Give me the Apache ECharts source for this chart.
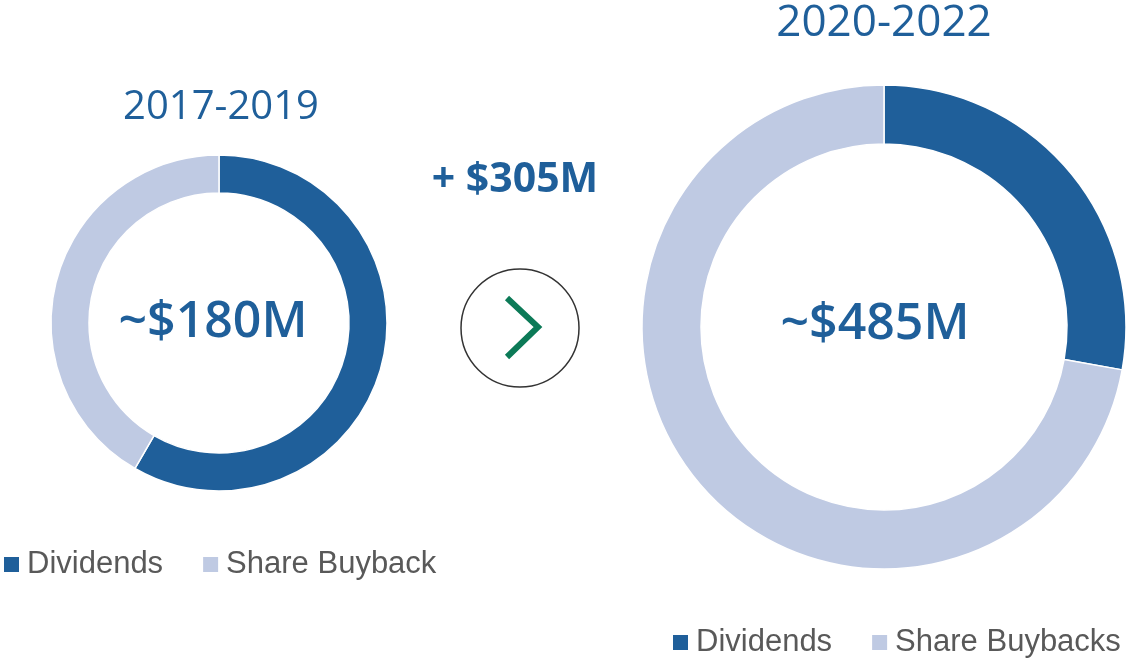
<!DOCTYPE html>
<html>
<head>
<meta charset="utf-8">
<script src="https://cdn.jsdelivr.net/npm/echarts@6/dist/echarts.min.js"></script>
<style>
  html, body { margin: 0; padding: 0; background: #fff; }
  #chart { width: 1129px; height: 658px; }
</style>
</head>
<body>
<div id="chart"></div>
<script>
// capital returned, $M
const periods = ['2017-2019', '2020-2022']
const namesLeft = ['Dividends', 'Share Buyback']
const namesRight = ['Dividends', 'Share Buybacks']
const valuesLeft = [105, 75]
const valuesRight = [135, 350]

const blue = '#1F5F9A'
const lightBlue = '#BFCAE3'
const palette = [blue, lightBlue]

const sum = (arr) => arr.reduce((a, b) => a + b, 0)
const totalLeft = sum(valuesLeft)
const totalRight = sum(valuesRight)

const toData = (names, values) =>
  names.map((name, i) => ({
    name: name,
    value: values[i],
    itemStyle: { color: palette[i] }
  }))

const txt = (text, x, y, font, fill) => ({
  type: 'text',
  style: {
    text: text,
    x: x,
    y: y,
    font: font,
    fill: fill,
    align: 'center',
    verticalAlign: 'middle',
    textAlign: 'center',
    textVerticalAlign: 'middle'
  }
})

const myChart = echarts.init(document.getElementById('chart'))

const pieBase = {
  type: 'pie',
  startAngle: 90,
  clockwise: true,
  avoidLabelOverlap: false,
  label: { show: false },
  labelLine: { show: false },
  emphasis: { disabled: true },
  itemStyle: { borderColor: '#fff', borderWidth: 1.5 }
}

const legendBase = {
  icon: 'rect',
  itemWidth: 15,
  itemHeight: 15,
  itemGap: 40,
  padding: 0,
  itemStyle: { borderWidth: 0 },
  textStyle: {
    fontFamily: 'Liberation Sans, Arial, sans-serif',
    fontSize: 31,
    color: '#595959',
    padding: [0, 0, 0, 3]
  }
}

const option = {
  color: palette,
  animation: false,
  legend: [
    {
      ...legendBase,
      left: 4,
      top: 549,
      data: namesLeft
    },
    {
      ...legendBase,
      left: 673,
      top: 627,
      data: namesRight
    }
  ],
  series: [
    {
      ...pieBase,
      name: periods[0],
      center: [219, 323],
      radius: [130, 168],
      data: toData(namesLeft, valuesLeft)
    },
    {
      ...pieBase,
      name: periods[1],
      center: [884, 327],
      radius: [183, 242],
      data: toData(namesRight, valuesRight)
    }
  ],
  graphic: [
    txt(periods[0], 221, 108, '400 40px "Open Sans"', blue),
    txt(periods[1], 884, 23, '400 44px "Open Sans"', blue),
    txt('~$' + totalLeft + 'M', 213, 323, '600 50px "Open Sans"', blue),
    txt('~$' + totalRight + 'M', 875, 325, '600 50px "Open Sans"', blue),
    txt('+ $' + (totalRight - totalLeft) + 'M', 515, 180, '700 41px "Open Sans"', blue),
    {
      type: 'circle',
      shape: { cx: 520, cy: 328, r: 59 },
      style: { fill: 'transparent', stroke: '#333333', lineWidth: 1.5 }
    },
    {
      type: 'polyline',
      shape: { points: [[507, 298], [538, 327], [507, 357]] },
      style: { stroke: '#0C7A57', lineWidth: 6, fill: null }
    }
  ]
}

myChart.setOption(option)
</script>
</body>
</html>
